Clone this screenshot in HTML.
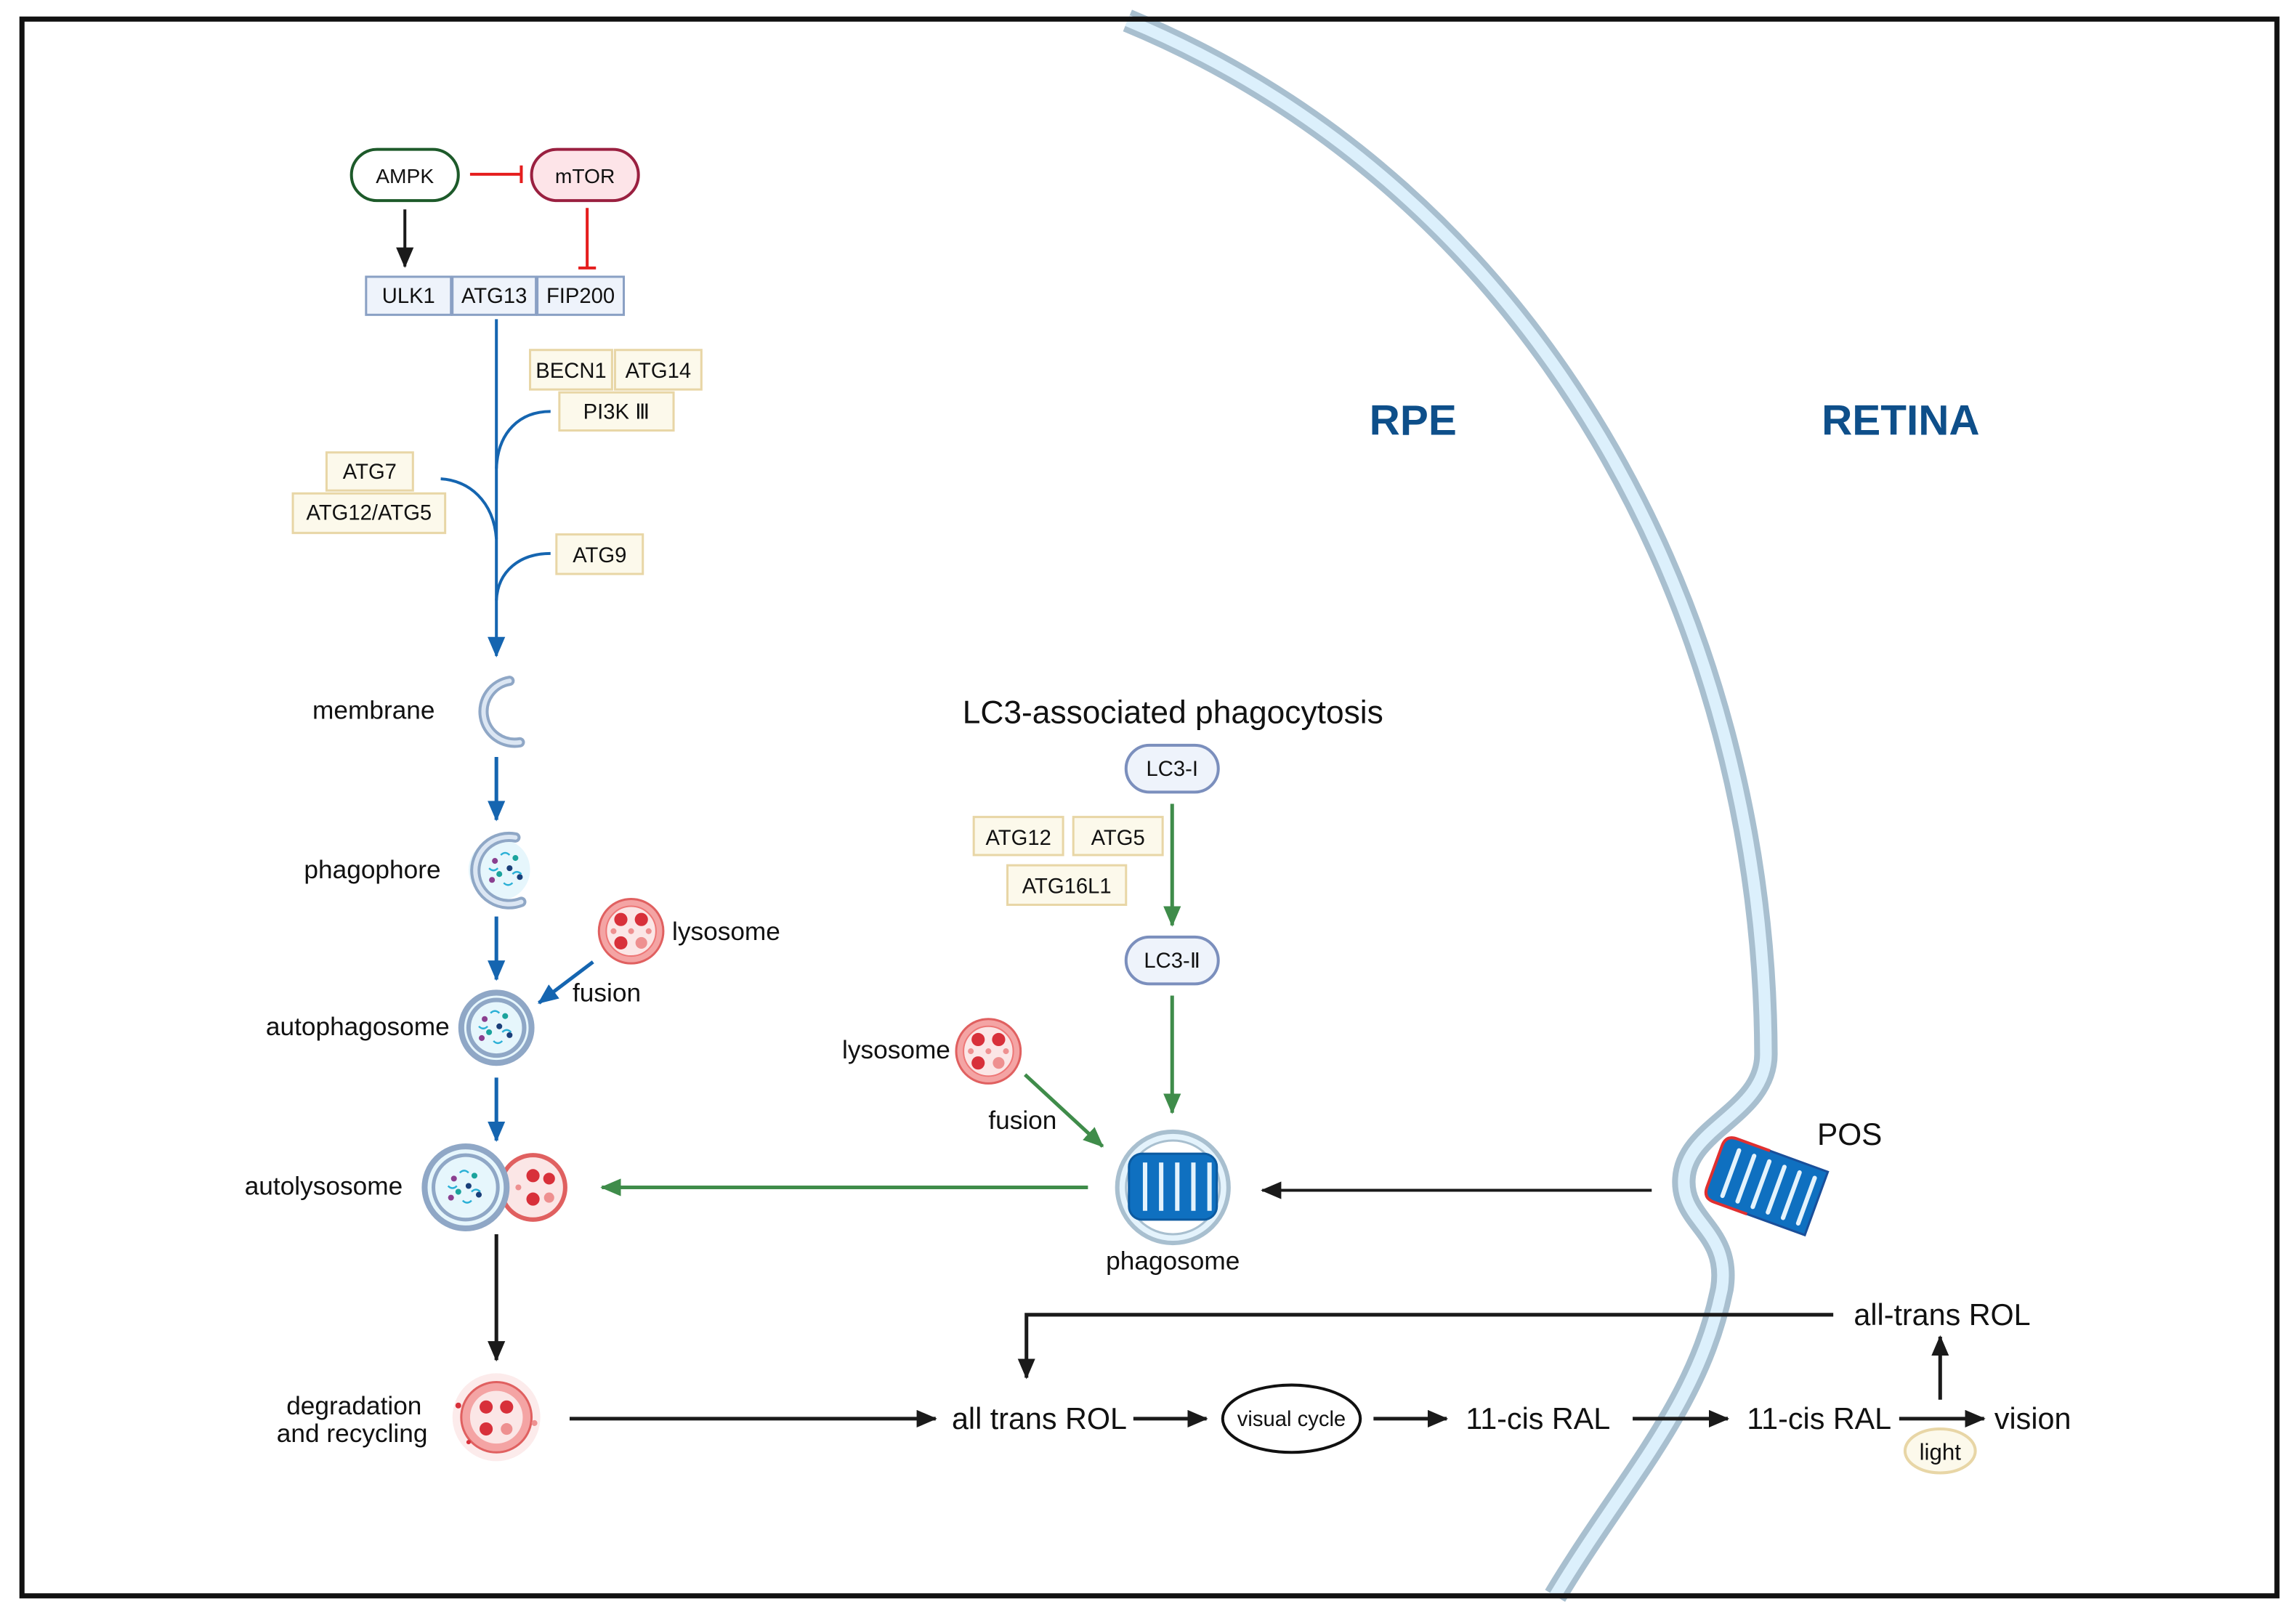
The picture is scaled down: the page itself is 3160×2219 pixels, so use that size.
<!DOCTYPE html>
<html><head><meta charset="utf-8"><style>
html,body{margin:0;padding:0;background:#fff}
svg{display:block}
text{font-family:"Liberation Sans",sans-serif;fill:#111}
</style></head><body>
<svg width="3160" height="2219" viewBox="0 0 1568 1101" xmlns="http://www.w3.org/2000/svg">
<defs>
<marker id="ab" markerWidth="14" markerHeight="12" refX="13" refY="6" orient="auto" markerUnits="userSpaceOnUse"><path d="M0,0 L14,6 L0,12z" fill="#1565b0"/></marker>
<marker id="ag" markerWidth="14" markerHeight="12" refX="13" refY="6" orient="auto" markerUnits="userSpaceOnUse"><path d="M0,0 L14,6 L0,12z" fill="#3f8c4a"/></marker>
<marker id="abk" markerWidth="14" markerHeight="12" refX="13" refY="6" orient="auto" markerUnits="userSpaceOnUse"><path d="M0,0 L14,6 L0,12z" fill="#1a1a1a"/></marker>
<g id="lyso">
<circle r="22" fill="#f4a4a4" stroke="#e06060" stroke-width="1.5"/>
<circle r="17" fill="#fbe6e6" stroke="#e77" stroke-width="1"/>
<circle cx="-7" cy="-8" r="4.5" fill="#d8303a"/><circle cx="7" cy="-8" r="4.5" fill="#d8303a"/>
<circle cx="-7" cy="8" r="4.5" fill="#d8303a"/><circle cx="7" cy="8" r="4" fill="#ee9090"/>
<circle cx="0" cy="0" r="2" fill="#ee9090"/><circle cx="-12" cy="0" r="2" fill="#ee9090"/><circle cx="12" cy="0" r="2" fill="#ee9090"/>
</g>
<g id="cargo">
<circle cx="-8" cy="-6" r="2" fill="#8a3f8f"/><circle cx="6" cy="-8" r="2" fill="#1ba39c"/><circle cx="2" cy="-1" r="2" fill="#1a3f7a"/>
<circle cx="-5" cy="3" r="2" fill="#1ba39c"/><circle cx="9" cy="5" r="2" fill="#1a3f7a"/><circle cx="-10" cy="7" r="2" fill="#8a3f8f"/>
<path d="M-4,-10 q3,-3 6,0 M-12,-1 q3,3 6,0 M4,3 q3,-3 6,0 M-2,9 q3,3 6,0" stroke="#2ab0d6" stroke-width="1.2" fill="none"/>
</g>
</defs>
<rect x="0" y="0" width="1568" height="1101" fill="#fff"/>
<path d="M770,14 C1050,130 1205,420 1206,720 C1206,760 1152,770 1150,805 C1148,835 1182,840 1176,880 C1160,960 1110,1010 1062,1090" fill="none" stroke="#a8bfcf" stroke-width="16"/>
<path d="M770,14 C1050,130 1205,420 1206,720 C1206,760 1152,770 1150,805 C1148,835 1182,840 1176,880 C1160,960 1110,1010 1062,1090" fill="none" stroke="#dcf0fc" stroke-width="8"/>
<rect x="15" y="13" width="1540" height="1077" fill="none" stroke="#111" stroke-width="3.5"/>

<text x="965" y="297" font-size="29" font-weight="bold" style="fill:#0e4f8a" text-anchor="middle">RPE</text>
<text x="1298" y="297" font-size="29" font-weight="bold" style="fill:#0e4f8a" text-anchor="middle">RETINA</text>

<rect x="240" y="102" width="73" height="35" rx="17.5" fill="#fff" stroke="#1d5a2a" stroke-width="2"/>
<text x="276.5" y="125" font-size="14" text-anchor="middle">AMPK</text>
<rect x="363" y="102" width="73" height="35" rx="17.5" fill="#fde4e8" stroke="#9a2040" stroke-width="2"/>
<text x="399.5" y="125" font-size="14" text-anchor="middle">mTOR</text>
<path d="M321,119 H356 M356,113 V125" stroke="#e51d1d" stroke-width="2" fill="none"/>
<path d="M401,142 V183 M395,183 H407" stroke="#e51d1d" stroke-width="2" fill="none"/>
<line x1="276.5" y1="143" x2="276.5" y2="182" stroke="#1a1a1a" stroke-width="2" marker-end="url(#abk)"/>
<g stroke="#8aa0c4" stroke-width="1.5" fill="#eef3fb">
<rect x="250" y="189" width="58" height="26"/><rect x="309" y="189" width="57" height="26"/><rect x="367" y="189" width="59" height="26"/></g>
<g font-size="14.5" text-anchor="middle"><text x="279" y="207">ULK1</text><text x="337.5" y="207">ATG13</text><text x="396.5" y="207">FIP200</text></g>

<g stroke="#e8d6a6" stroke-width="1.5" fill="#fcf9eb">
<rect x="362" y="239" width="56" height="27"/><rect x="420" y="239" width="59" height="27"/>
<rect x="382" y="268" width="78" height="26"/>
<rect x="223" y="309" width="59" height="26"/><rect x="200" y="337" width="104" height="27"/>
<rect x="380" y="365" width="59" height="27"/>
<rect x="665" y="558" width="61" height="26"/><rect x="733" y="558" width="61" height="26"/>
<rect x="688" y="591" width="81" height="27"/>
</g>
<g font-size="14.5" text-anchor="middle">
<text x="390" y="258">BECN1</text><text x="449.5" y="258">ATG14</text><text x="421" y="286">PI3K Ⅲ</text>
<text x="252.5" y="327">ATG7</text><text x="252" y="355">ATG12/ATG5</text><text x="409.5" y="384">ATG9</text>
<text x="695.5" y="577">ATG12</text><text x="763.5" y="577">ATG5</text><text x="728.5" y="610">ATG16L1</text>
</g>

<g stroke="#1565b0" stroke-width="2" fill="none">
<path d="M339,218 V448" marker-end="url(#ab)"/>
<path d="M376,281 C355,281 340,295 339,320"/>
<path d="M301,327 C320,328 337,342 339,368"/>
<path d="M376,378 C355,378 340,390 339,410"/>
<path d="M339,517 V560" stroke-width="2.5" marker-end="url(#ab)"/>
<path d="M339,626 V669" stroke-width="2.5" marker-end="url(#ab)"/>
<path d="M339,736 V779" stroke-width="2.5" marker-end="url(#ab)"/>
<path d="M405,657 L368,685" stroke-width="2.5" marker-end="url(#ab)"/>
</g>

<path d="M348,465 A19,19 0 1 0 355,507" fill="none" stroke="#8fa7c6" stroke-width="7" stroke-linecap="round"/>
<path d="M348,465 A19,19 0 1 0 355,507" fill="none" stroke="#dbe6f3" stroke-width="3" stroke-linecap="round"/>
<text x="297" y="491" font-size="17.5" text-anchor="end">membrane</text>

<circle cx="341" cy="594" r="21" fill="#e6f6fc"/>
<path d="M352,572 A23,23 0 1 0 356,616" fill="none" stroke="#8fa7c6" stroke-width="7" stroke-linecap="round"/>
<path d="M352,572 A23,23 0 1 0 356,616" fill="none" stroke="#dbe6f3" stroke-width="3" stroke-linecap="round"/>
<use href="#cargo" x="346" y="594"/>
<text x="301" y="600" font-size="17.5" text-anchor="end">phagophore</text>

<use href="#lyso" x="431" y="636"/>
<text x="459" y="642" font-size="17.5">lysosome</text>
<text x="391" y="684" font-size="17.5">fusion</text>

<circle cx="339" cy="702" r="24" fill="#e6f6fc" stroke="#8fa7c6" stroke-width="4"/>
<circle cx="339" cy="702" r="19" fill="none" stroke="#8fa7c6" stroke-width="3"/>
<use href="#cargo" x="339" y="702"/>
<text x="307" y="707" font-size="17.5" text-anchor="end">autophagosome</text>

<path d="M330,795 C345,800 350,800 362,790 L362,832 C350,822 345,822 330,827z" fill="#fbe0e0"/>
<circle cx="364" cy="811" r="22" fill="#fbe6e6" stroke="#e06060" stroke-width="3"/>
<circle cx="318" cy="811" r="28" fill="#e6f6fc" stroke="#8fa7c6" stroke-width="4"/>
<circle cx="318" cy="811" r="22" fill="none" stroke="#8fa7c6" stroke-width="2.5"/>
<use href="#cargo" x="318" y="811"/>
<circle cx="364" cy="803" r="4.5" fill="#d8303a"/><circle cx="375" cy="805" r="4" fill="#d8303a"/><circle cx="364" cy="819" r="4.5" fill="#d8303a"/><circle cx="375" cy="818" r="3.5" fill="#ee9090"/><circle cx="354" cy="811" r="2" fill="#ee9090"/>
<text x="275" y="816" font-size="17.5" text-anchor="end">autolysosome</text>

<line x1="339" y1="843" x2="339" y2="929" stroke="#1a1a1a" stroke-width="2.5" marker-end="url(#abk)"/>

<circle cx="339" cy="968" r="30" fill="#fbe3e3" opacity="0.7"/>
<circle cx="339" cy="968" r="24" fill="#f4a4a4" stroke="#e06060" stroke-width="1.5"/>
<circle cx="339" cy="968" r="18" fill="#fbe6e6"/>
<circle cx="332" cy="961" r="4.5" fill="#d8303a"/><circle cx="346" cy="961" r="4.5" fill="#d8303a"/><circle cx="332" cy="976" r="4.5" fill="#d8303a"/><circle cx="346" cy="976" r="4" fill="#ee9090"/>
<circle cx="313" cy="960" r="2" fill="#d8303a"/><circle cx="365" cy="972" r="2" fill="#ee9090"/><circle cx="320" cy="985" r="1.5" fill="#d8303a"/>
<text x="288" y="966" font-size="17.5" text-anchor="end">degradation</text>
<text x="292" y="985" font-size="17.5" text-anchor="end">and recycling</text>

<text x="801" y="494" font-size="22" text-anchor="middle">LC3-associated phagocytosis</text>
<rect x="769" y="509" width="63" height="32" rx="16" fill="#eef3fb" stroke="#7b8fbd" stroke-width="2"/>
<text x="800.5" y="530" font-size="14.5" text-anchor="middle">LC3-I</text>
<rect x="769" y="640" width="63" height="32" rx="16" fill="#eef3fb" stroke="#7b8fbd" stroke-width="2"/>
<text x="800.5" y="661" font-size="14.5" text-anchor="middle">LC3-Ⅱ</text>
<g stroke="#3f8c4a" stroke-width="2.5" fill="none">
<line x1="800.5" y1="549" x2="800.5" y2="632" marker-end="url(#ag)"/>
<line x1="800.5" y1="680" x2="800.5" y2="760" marker-end="url(#ag)"/>
<line x1="700" y1="734" x2="753" y2="783" marker-end="url(#ag)"/>
<line x1="743" y1="811" x2="411" y2="811" marker-end="url(#ag)"/>
</g>
<use href="#lyso" x="675" y="718"/>
<text x="649" y="723" font-size="17.5" text-anchor="end">lysosome</text>
<text x="675" y="771" font-size="17.5">fusion</text>

<circle cx="801" cy="811" r="38" fill="#e4f3fc" stroke="#a8bfcf" stroke-width="3"/>
<circle cx="801" cy="811" r="32" fill="#fff" stroke="#a8bfcf" stroke-width="1.5"/>
<rect x="771" y="788" width="60" height="45" rx="9" fill="#0f70c0" stroke="#0b5aa0" stroke-width="1.5"/>
<g stroke="#e4f3fc" stroke-width="3"><line x1="782" y1="794" x2="782" y2="827"/><line x1="793" y1="794" x2="793" y2="827"/><line x1="804" y1="794" x2="804" y2="827"/><line x1="815" y1="794" x2="815" y2="827"/><line x1="826" y1="794" x2="826" y2="827"/></g>
<text x="801" y="867" font-size="17.5" text-anchor="middle">phagosome</text>

<line x1="1128" y1="813" x2="862" y2="813" stroke="#1a1a1a" stroke-width="2" marker-end="url(#abk)"/>

<g transform="translate(1210,812) rotate(20)">
<path d="M-34,-24 H32 V22 H-34 Q-42,22 -42,14 V-16 Q-42,-24 -34,-24z" fill="#0f70c0" stroke="#1a4f9a" stroke-width="1.5"/>
<path d="M-10,-24 H-34 Q-42,-24 -42,-16 V14 Q-42,22 -34,22 H-10" fill="none" stroke="#e03030" stroke-width="2"/>
<g stroke="#e4f3fc" stroke-width="3" stroke-linecap="round"><line x1="-30" y1="-17" x2="-30" y2="16"/><line x1="-19" y1="-17" x2="-19" y2="16"/><line x1="-8" y1="-17" x2="-8" y2="16"/><line x1="3" y1="-17" x2="3" y2="16"/><line x1="14" y1="-17" x2="14" y2="16"/><line x1="25" y1="-17" x2="25" y2="16"/></g>
</g>
<text x="1241" y="782" font-size="21">POS</text>

<g stroke="#1a1a1a" stroke-width="2.5" fill="none">
<line x1="389" y1="969" x2="639" y2="969" marker-end="url(#abk)"/>
<path d="M1252,898 H701 V941" marker-end="url(#abk)"/>
<line x1="774" y1="969" x2="824" y2="969" marker-end="url(#abk)"/>
<line x1="938" y1="969" x2="988" y2="969" marker-end="url(#abk)"/>
<line x1="1115" y1="969" x2="1180" y2="969" marker-end="url(#abk)"/>
<line x1="1297" y1="969" x2="1355" y2="969" marker-end="url(#abk)"/>
<line x1="1325" y1="956" x2="1325" y2="913" marker-end="url(#abk)"/>
</g>
<ellipse cx="882" cy="969" rx="47" ry="23" fill="#fff" stroke="#111" stroke-width="2"/>
<text x="882" y="974" font-size="14.5" text-anchor="middle">visual cycle</text>
<g font-size="20.5">
<text x="650" y="976">all trans ROL</text>
<text x="1001" y="976">11-cis RAL</text>
<text x="1193" y="976">11-cis RAL</text>
<text x="1362" y="976">vision</text>
<text x="1266" y="905">all-trans ROL</text>
</g>
<ellipse cx="1325" cy="991" rx="24" ry="15" fill="#fcf9eb" stroke="#e8d6a6" stroke-width="2"/>
<text x="1325" y="997" font-size="15.5" text-anchor="middle">light</text>
</svg>
</body></html>
